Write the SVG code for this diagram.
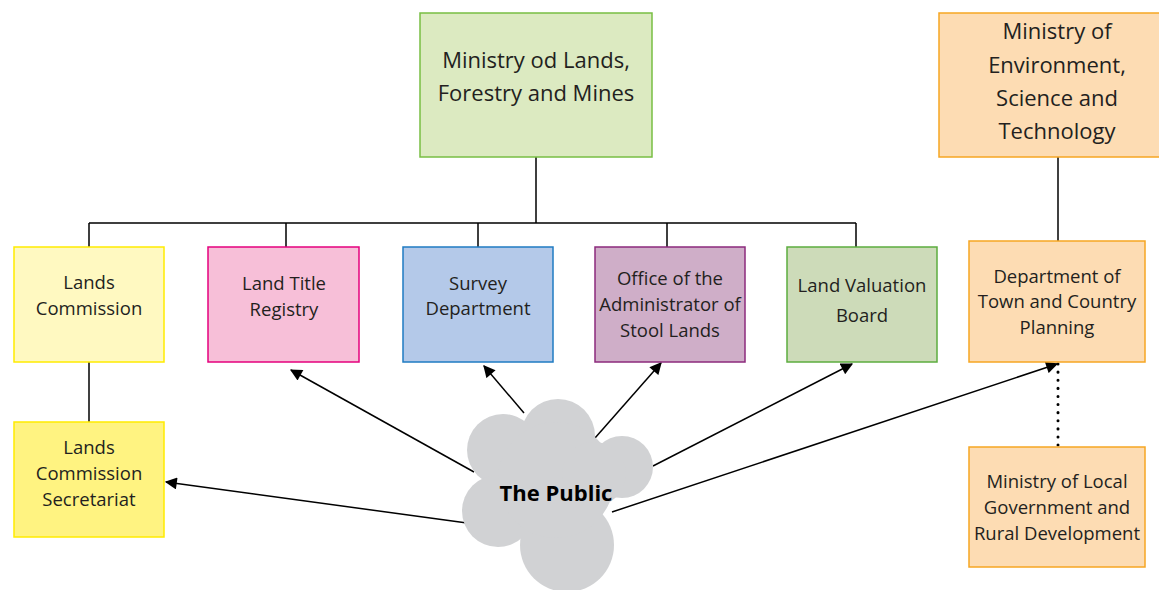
<svg xmlns="http://www.w3.org/2000/svg" width="1159" height="590" viewBox="0 0 1159 590">
<style>
text{font-family:"Open Sans","Noto Sans","Liberation Sans",sans-serif;fill:#231f20;text-anchor:middle}
.t{font-size:18.5px}
.b{font-size:22px}
.ln{stroke:#000;stroke-width:1.5;fill:none}
.ar{stroke:#000;stroke-width:1.5;fill:none;marker-end:url(#ah)}
</style>
<defs>
<marker id="ah" viewBox="0 0 10 10" refX="9" refY="5" markerWidth="13" markerHeight="12" markerUnits="userSpaceOnUse" orient="auto">
<path d="M0,0 L10,5 L0,10 z" fill="#000"/>
</marker>
</defs>
<g id="connectors">
<path class="ln" d="M536,157 V223 M89,223 H856 M89,223 V247 M286,223 V247 M478,223 V247 M667,223 V247 M856,223 V247"/>
<path class="ln" d="M1058,157 V241"/>
<path class="ln" d="M89,362 V422"/>
<path d="M1058,364 V447" stroke="#000" stroke-width="3" stroke-dasharray="0.1 8" stroke-linecap="round" fill="none"/>
<path class="ar" d="M467,523 L166,482"/>
<path class="ar" d="M474,472 L291,370"/>
<path class="ar" d="M524,413 L484,366"/>
<path class="ar" d="M595,438 L661,363"/>
<path class="ar" d="M653,466 L852,364"/>
<path class="ar" d="M612,512 L1057,364"/>
</g>
<g id="ministry-lands">
<rect x="420" y="13" width="232" height="144" fill="#dceac1" stroke="#78be43" stroke-width="1.5"/>
<text class="b" x="536" y="68">Ministry od Lands,</text>
<text class="b" x="536" y="101">Forestry and Mines</text>
</g>
<g id="ministry-env">
<rect x="939" y="13" width="222" height="144" fill="#fddcb3" stroke="#f6a623" stroke-width="1.5"/>
<text class="b" x="1057" y="39">Ministry of</text>
<text class="b" x="1057" y="73">Environment,</text>
<text class="b" x="1057" y="106">Science and</text>
<text class="b" x="1057" y="139">Technology</text>
</g>
<g id="lands-commission">
<rect x="14" y="247" width="150" height="115" fill="#fff9c1" stroke="#ffeb00" stroke-width="1.5"/>
<text class="t" x="89" y="289">Lands</text>
<text class="t" x="89" y="315">Commission</text>
</g>
<g id="land-title">
<rect x="208" y="247" width="151" height="115" fill="#f7bfd8" stroke="#e5007d" stroke-width="1.5"/>
<text class="t" x="284" y="290">Land Title</text>
<text class="t" x="284" y="316">Registry</text>
</g>
<g id="survey">
<rect x="403" y="247" width="150" height="115" fill="#b4c9e9" stroke="#1f7bc2" stroke-width="1.5"/>
<text class="t" x="478" y="290">Survey</text>
<text class="t" x="478" y="315">Department</text>
</g>
<g id="stool-lands">
<rect x="595" y="247" width="150" height="115" fill="#cfaec8" stroke="#8c2a7c" stroke-width="1.5"/>
<text class="t" x="670" y="285">Office of the</text>
<text class="t" x="670" y="311">Administrator of</text>
<text class="t" x="670" y="337">Stool Lands</text>
</g>
<g id="land-valuation">
<rect x="787" y="247" width="150" height="115" fill="#cddbb9" stroke="#5cad3f" stroke-width="1.5"/>
<text class="t" x="862" y="292">Land Valuation</text>
<text class="t" x="862" y="322">Board</text>
</g>
<g id="town-country">
<rect x="969" y="241" width="176" height="121" fill="#fddcb3" stroke="#f6a623" stroke-width="1.5"/>
<text class="t" x="1057" y="283">Department of</text>
<text class="t" x="1057" y="308">Town and Country</text>
<text class="t" x="1057" y="334">Planning</text>
</g>
<g id="local-gov">
<rect x="969" y="447" width="176" height="120" fill="#fddcb3" stroke="#f6a623" stroke-width="1.5"/>
<text class="t" x="1057" y="488">Ministry of Local</text>
<text class="t" x="1057" y="514">Government and</text>
<text class="t" x="1057" y="540">Rural Development</text>
</g>
<g id="secretariat">
<rect x="14" y="422" width="150" height="115" fill="#fff381" stroke="#ffeb00" stroke-width="1.5"/>
<text class="t" x="89" y="454">Lands</text>
<text class="t" x="89" y="480">Commission</text>
<text class="t" x="89" y="506">Secretariat</text>
</g>
<g id="the-public" fill="#d1d2d4">
<circle cx="558" cy="436" r="37"/>
<circle cx="503" cy="450" r="36"/>
<circle cx="622" cy="467" r="31"/>
<circle cx="498" cy="511" r="36"/>
<circle cx="567" cy="545" r="47"/>
<circle cx="556" cy="480" r="58"/>
<circle cx="594" cy="474" r="32"/>
<text x="556" y="501" style="font-size:22px;font-weight:bold;fill:#000">The Public</text>
</g>
</svg>
